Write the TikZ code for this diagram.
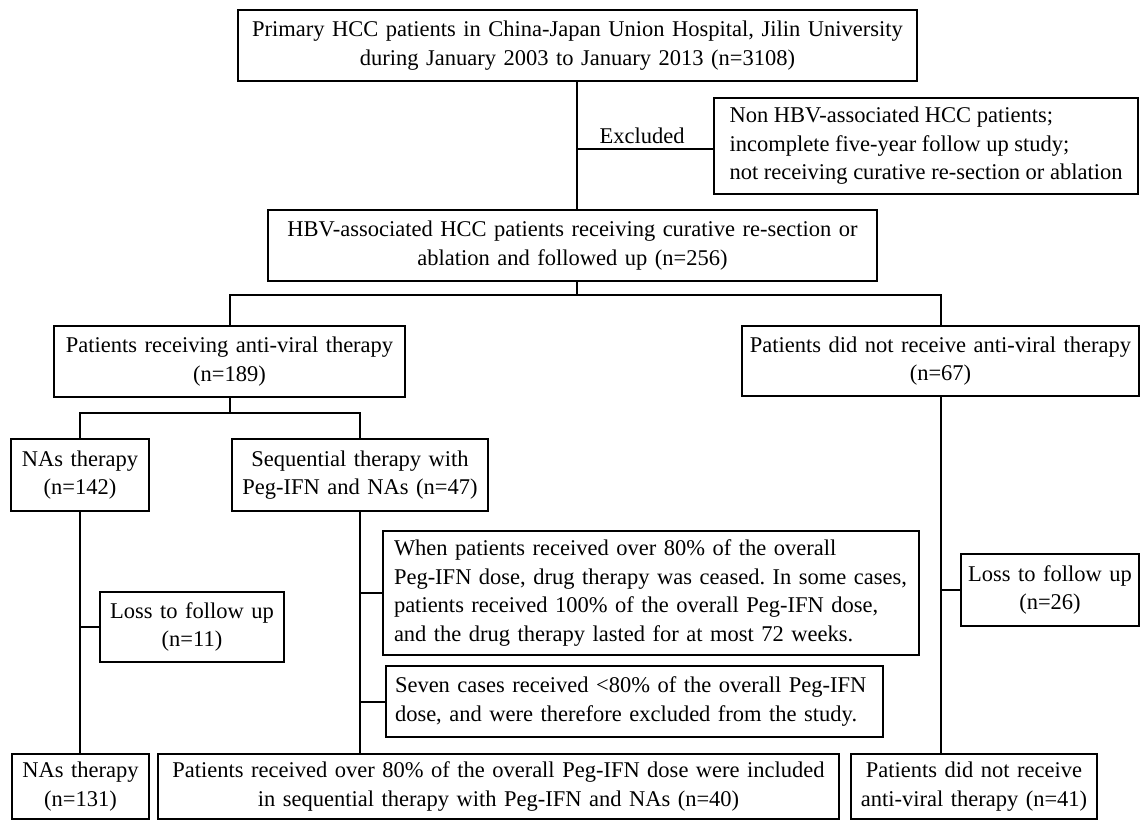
\documentclass[tikz,border=0pt]{standalone}
\usepackage{fontspec}
\setmainfont{Liberation Serif}
\begin{document}
\frenchspacing
\begin{tikzpicture}[x=1pt,y=-1pt]
\tikzset{
  box/.style={draw, line width=2pt, inner sep=0pt, font=\fontsize{22.5}{28.5}\selectfont},
  cbox/.style={box, align=center},
  lbox/.style={box, align=left},
  conn/.style={line width=2pt},
  lbl/.style={inner sep=0pt, font=\fontsize{22.5}{28.5}\selectfont},
}
\useasboundingbox (0,0) rectangle (1140,820);
\fill[white] (0,0) rectangle (1140,820);

\node[cbox, minimum width=679pt, text width=679pt, minimum height=71pt] (top) at (577.5,45.5)
  {Primary HCC patients in China-Japan Union Hospital, Jilin University\\during January 2003 to January 2013 (n=3108)};
\node[lbox, minimum width=424pt, minimum height=96pt] (excl) at (926,146)
  {Non HBV-associated HCC patients;\\incomplete five-year follow up study;\\not receiving curative re-section or ablation};
\node[cbox, minimum width=609pt, text width=609pt, minimum height=71pt] (hbv) at (572.5,245.5)
  {HBV-associated HCC patients receiving curative re-section or\\ablation and followed up (n=256)};
\node[cbox, minimum width=351pt, text width=351pt, minimum height=71pt] (avt) at (229.5,361.5)
  {Patients receiving anti-viral therapy\\(n=189)};
\node[cbox, minimum width=397pt, text width=397pt, minimum height=70pt] (navt) at (940.5,361)
  {Patients did not receive anti-viral therapy\\(n=67)};
\node[cbox, minimum width=138pt, text width=138pt, minimum height=72pt] (nas1) at (80,475)
  {NAs therapy\\(n=142)};
\node[cbox, minimum width=256pt, text width=256pt, minimum height=72pt] (seq) at (360,475)
  {Sequential therapy with\\Peg-IFN and NAs (n=47)};
\node[cbox, minimum width=184pt, text width=184pt, minimum height=70pt] (loss11) at (192,627)
  {Loss to follow up\\(n=11)};
\node[lbox, minimum width=536pt, text width=514pt, minimum height=124pt] (peg) at (651,593)
  {When patients received over 80\% of the overall\\Peg-IFN dose, drug therapy was ceased. In some cases,\\patients received 100\% of the overall Peg-IFN dose,\\and the drug therapy lasted for at most 72 weeks.};
\node[lbox, minimum width=497pt, text width=479pt, minimum height=71pt] (seven) at (634.5,701.5)
  {Seven cases received <80\% of the overall Peg-IFN\\dose, and were therefore excluded from the study.};
\node[cbox, minimum width=178pt, text width=178pt, minimum height=72pt] (loss26) at (1050,590)
  {Loss to follow up\\(n=26)};
\node[cbox, minimum width=137pt, text width=137pt, minimum height=65pt] (nas2) at (80.5,786.5)
  {NAs therapy\\(n=131)};
\node[cbox, minimum width=681pt, text width=681pt, minimum height=65pt] (incl) at (498.5,786.5)
  {Patients received over 80\% of the overall Peg-IFN dose were included\\in sequential therapy with Peg-IFN and NAs (n=40)};
\node[cbox, minimum width=246pt, text width=246pt, minimum height=65pt] (nr) at (974,786.5)
  {Patients did not receive\\anti-viral therapy (n=41)};

\coordinate (s0) at (577,295);
\coordinate (s1) at (577,149);
\coordinate (s2) at (229.5,413);

\draw[conn] (top.south -| s0) -- (hbv.north -| s0);
\draw[conn] (s1) -- (s1 -| excl.west);
\node[lbl] (exlbl) at (642,136) {Excluded};
\draw[conn] (hbv.south -| s0) -- (s0);
\draw[conn] (avt.north) |- (s0) -| (navt.north);
\draw[conn] (avt.south) -- (s2);
\draw[conn] (nas1.north) |- (s2) -| (seq.north);
\draw[conn] (nas1.south) -- (nas2.north -| nas1.south);
\draw[conn] (loss11.west) -- (loss11.west -| nas1.south);
\draw[conn] (seq.south) -- (incl.north -| seq.south);
\draw[conn] (peg.west) -- (peg.west -| seq.south);
\draw[conn] (seven.west) -- (seven.west -| seq.south);
\draw[conn] (navt.south) -- (nr.north -| navt.south);
\draw[conn] (loss26.west) -- (loss26.west -| navt.south);
\end{tikzpicture}
\end{document}
